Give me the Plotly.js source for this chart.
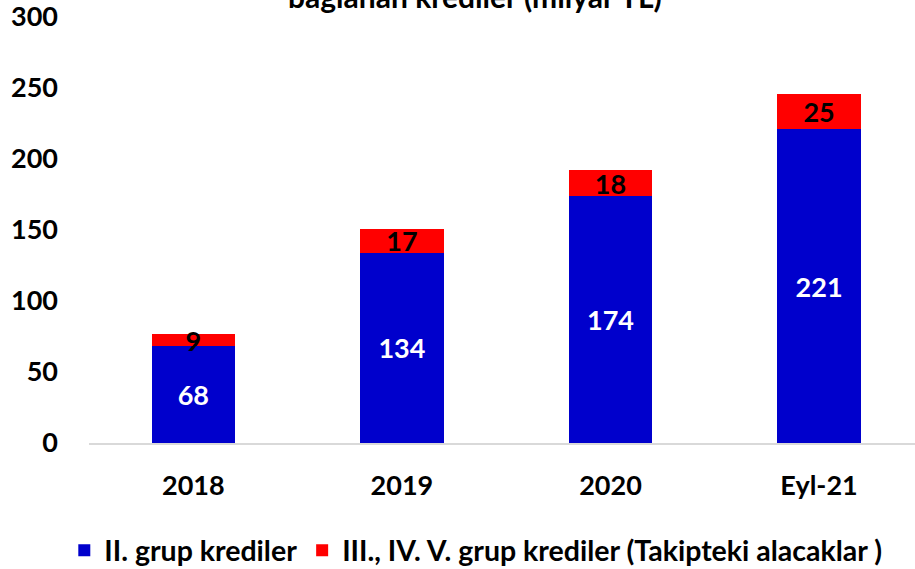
<!DOCTYPE html>
<html>
<head>
<meta charset="utf-8">
<script src="https://cdn.plot.ly/plotly-3.0.1.min.js"></script>
<style>html,body{margin:0;padding:0;background:#fff;}#chart{width:915px;height:569px;}</style>
</head>
<body>
<div id="chart"></div>
<script>
const categories = ["2018", "2019", "2020", "Eyl-21"];
const grupII = [68, 134, 174, 221];
const grupIIItoV = [9, 17, 18, 25];
const seriesNames = ["II. grup krediler", "III., IV. V. grup krediler (Takipteki alacaklar )"];
const yTicks = [0, 50, 100, 150, 200, 250, 300];
const titleText = "bağlanan krediler (milyar TL)";

const FONT = "Lato, 'Open Sans', sans-serif";

const traces = [
  {
    type: "bar", x: categories, y: grupII, name: seriesNames[0],
    marker: {color: "#0000CC"},
    text: grupII.map(String), textposition: "inside", insidetextanchor: "middle",
    constraintext: "none", textangle: 0,
    textfont: {family: FONT, size: 27, color: "#ffffff", weight: 700},
    hoverinfo: "skip"
  },
  {
    type: "bar", x: categories, y: grupIIItoV, name: seriesNames[1],
    marker: {color: "#FF0000"},
    text: grupIIItoV.map(String), textposition: "inside", insidetextanchor: "middle",
    constraintext: "none", textangle: 0,
    textfont: {family: FONT, size: 27, color: "#000000", weight: 700},
    hoverinfo: "skip"
  }
];

const layout = {
  width: 915, height: 569,
  margin: {l: 89, r: 0, t: 17, b: 126, pad: 0, autoexpand: false},
  paper_bgcolor: "#ffffff", plot_bgcolor: "#ffffff",
  barmode: "stack", bargap: 0.6,
  font: {family: FONT, size: 27, color: "#000000", weight: 700},
  title: {
    text: titleText, xref: "container", x: 0.519, xanchor: "center",
    yref: "container", y: 0.9855, yanchor: "bottom",
    font: {family: FONT, size: 30, color: "#000000", weight: 700}
  },
  xaxis: {
    type: "category", range: [-0.5, 3.46], showgrid: false,
    showline: true, linecolor: "#d9d9d9", linewidth: 2,
    ticks: "", ticklabelstandoff: 18,
    tickfont: {family: FONT, size: 27, color: "#000", weight: 700},
    fixedrange: true
  },
  yaxis: {
    range: [0, 300.01], tickvals: yTicks, ticktext: yTicks.map(String),
    showgrid: false, zeroline: false, showline: false, ticks: "",
    ticklabelstandoff: 30, ticklabeloverflow: "allow",
    tickfont: {family: FONT, size: 27, color: "#000", weight: 700},
    fixedrange: true
  },
  showlegend: true,
  legend: {
    orientation: "h", xref: "container", x: 0.52, xanchor: "center",
    yref: "container", y: 0.032, yanchor: "middle",
    font: {family: FONT, size: 28.5, color: "#000", weight: 700},
    itemwidth: 30, itemgap: 0, traceorder: "normal", tracegroupgap: 0
  }
};

Plotly.newPlot("chart", traces, layout, {displayModeBar: false, staticPlot: true});
</script>
</body>
</html>
